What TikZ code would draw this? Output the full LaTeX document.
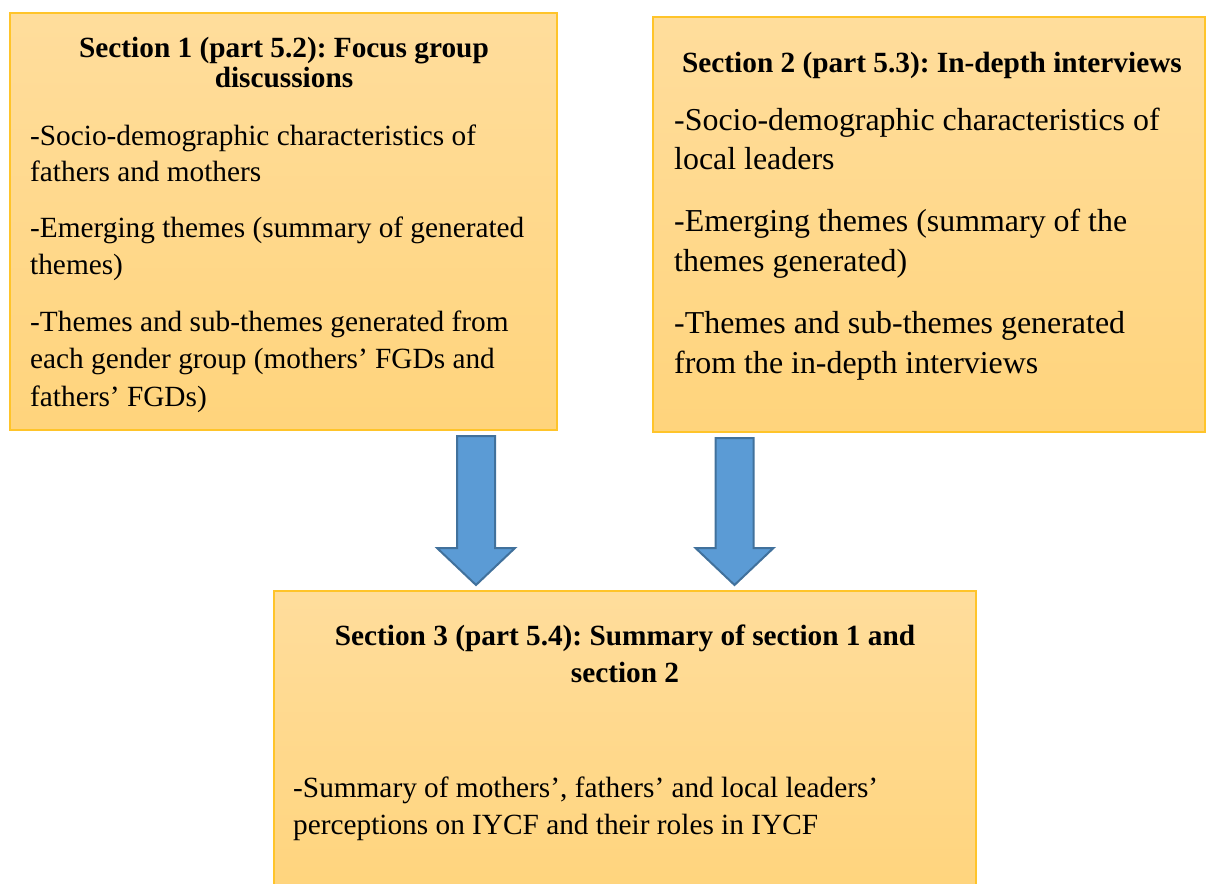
\documentclass[tikz,border=0pt]{standalone}
\usepackage{fontspec}
\setmainfont{Liberation Serif}
\frenchspacing
\definecolor{boxtop}{HTML}{FFDD9C}
\definecolor{boxbot}{HTML}{FFD47C}
\definecolor{boxline}{HTML}{FFC42A}
\definecolor{arrowfill}{HTML}{5B9BD5}
\definecolor{arrowline}{HTML}{41719C}
\tikzset{
  panel/.style={draw=boxline, line width=1.5pt, top color=boxtop, bottom color=boxbot,
    inner sep=0pt, outer sep=0pt},
  blockarrow/.style={fill=arrowfill, draw=arrowline, line width=2pt, line join=miter},
  txt/.style={anchor=base west, inner sep=0pt, font=\fontsize{29.3}{36}\selectfont},
  bigtxt/.style={anchor=base west, inner sep=0pt, font=\fontsize{31.9}{38}\selectfont},
  ttl/.style={anchor=base, inner sep=0pt, font=\fontsize{29.3}{36}\selectfont\bfseries},
}
% block arrow pointing down: centre x, top y, shoulder y, tip y
\newcommand{\downarrowblock}[4]{%
  \draw[blockarrow] (#1-19,#2) -- (#1+19,#2) -- (#1+19,#3) -- (#1+39,#3)
    -- (#1,#4) -- (#1-39,#3) -- (#1-19,#3) -- cycle;}
\begin{document}
\begin{tikzpicture}[x=1pt,y=-1pt]
\useasboundingbox (0,0) rectangle (1206,883);

% panels
\node[panel, minimum width=547pt, minimum height=417pt] (s1) at (283.5,221.5) {};
\node[panel, minimum width=552pt, minimum height=415pt] (s2) at (929,224.5) {};
\node[panel, minimum width=702pt, minimum height=309pt] (s3) at (625,745.5) {};

% Section 1
\node[ttl] (t1a) at (284,58) {Section 1 (part 5.2): Focus group};
\node[ttl] (t1b) at (284,87) {discussions};
\node[txt] (a1) at (30,145) {-Socio-demographic characteristics of};
\node[txt] (a2) at (30,181) {fathers and mothers};
\node[txt] (b1) at (30,237) {-Emerging themes (summary of generated};
\node[txt] (b2) at (30,274) {themes)};
\node[txt] (c1) at (30,331) {-Themes and sub-themes generated from};
\node[txt] (c2) at (30,368) {each gender group (mothers’ FGDs and};
\node[txt] (c3) at (30,406) {fathers’ FGDs)};

% Section 2
\node[ttl] (t2) at (932,72) {Section 2 (part 5.3): In-depth interviews};
\node[bigtxt] (d1) at (674,130) {-Socio-demographic characteristics of};
\node[bigtxt] (d2) at (674,169) {local leaders};
\node[bigtxt] (e1) at (674,231) {-Emerging themes (summary of the};
\node[bigtxt] (e2) at (674,271) {themes generated)};
\node[bigtxt] (f1) at (674,333) {-Themes and sub-themes generated};
\node[bigtxt] (f2) at (674,373) {from the in-depth interviews};

% Section 3
\node[ttl] (t3a) at (625,645) {Section 3 (part 5.4): Summary of section 1 and};
\node[ttl] (t3b) at (625,682) {section 2};
\node[txt] (g1) at (293,797) {-Summary of mothers’, fathers’ and local leaders’};
\node[txt] (g2) at (293,834) {perceptions on IYCF and their roles in IYCF};

% arrows into the summary
\downarrowblock{476}{436}{548}{585}
\downarrowblock{734.5}{438}{548}{585}
\end{tikzpicture}
\end{document}
